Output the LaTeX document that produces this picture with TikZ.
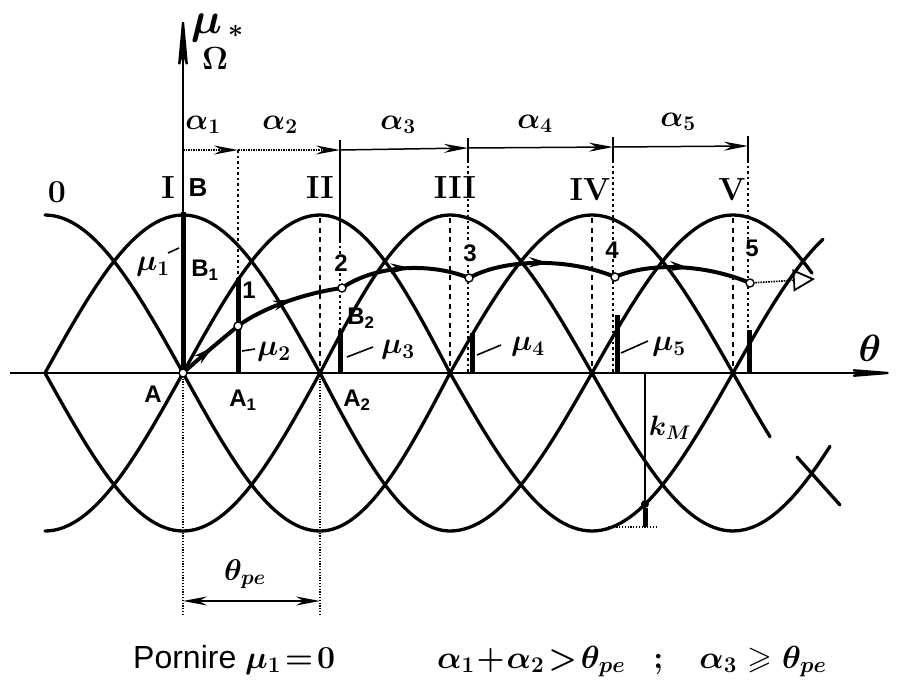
\RequirePackage{fix-cm}
\documentclass[tikz,border=0pt]{standalone}
\usepackage{amssymb}
\usepackage{fontspec}
\setsansfont{Liberation Sans}
\usetikzlibrary{arrows.meta,decorations.markings}
\begin{document}
\begin{tikzpicture}[x=1pt,y=-1pt,
  curve/.style={line width=3.3pt, line cap=round},
  axisl/.style={line width=2.2pt},
  dotv/.style={line width=1.5pt, dash pattern=on 2.5pt off 3pt},
  fined/.style={line width=1.2pt, dash pattern=on 1.2pt off 1.6pt},
  dashv/.style={line width=2pt, dash pattern=on 5pt off 4.5pt},
  tickl/.style={line width=1.5pt},
  bar/.style={line width=5pt},
  lead/.style={line width=1.6pt},
  pt/.style={circle, draw, line width=1.4pt, fill=white, inner sep=0pt, minimum size=8pt},
  traj/.style={line width=4pt, decoration={markings, mark=at position 0.55 with {\arrow{Stealth[length=20pt,width=10pt]}}}, postaction={decorate}},
  dimarr/.style={line width=1.5pt},
  roman/.style={font=\fontsize{32}{34}\selectfont\bfseries, inner sep=0pt},
  num/.style={font=\sffamily\fontsize{24}{26}\selectfont\bfseries, inner sep=1pt, fill=white},
  pl/.style={font=\sffamily\fontsize{24}{26}\selectfont\bfseries, inner sep=0pt},
  ml/.style={font=\fontsize{30}{32}\selectfont\boldmath, inner sep=0pt},
]
\useasboundingbox (0,0) rectangle (902,696);

% ---- torque curves (four phases) ----
\draw[curve] (45,215) cos (183,373) sin (320,531) cos (450,373) sin (592,215) cos (733,373)
  -- plot[domain=733:770,samples=12] (\x,{373+158*sin((\x-733)/140*90)});
\draw[curve] (797,457) -- (840,505);
\draw[curve] (45,373) sin (183,215) cos (320,373) sin (450,531) cos (592,373) sin (733,215)
  -- plot[domain=733:812,samples=16] (\x,{373-158*cos((\x-733)/140*90)});
\draw[curve] (45,531) cos (183,373) sin (320,215) cos (450,373) sin (592,531) cos (733,373)
  -- plot[domain=733:823,samples=16] (\x,{373-158*sin((\x-733)/140*90)});
\draw[curve] (45,373) sin (183,531) cos (320,373) sin (450,215) cos (592,373) sin (733,531)
  -- plot[domain=733:830,samples=16] (\x,{373+158*cos((\x-733)/140*90)});

% ---- axes ----
\draw[axisl, -{Stealth[length=62pt,width=10pt]}] (10,373) -- (902,373);
\draw[axisl, -{Stealth[length=66pt,width=12pt]}] (183,373) -- (183,10);
\draw[bar] (183,373) -- (183,212);
\draw[fined] (183,373) -- (183,614);
\draw[fined] (320,373) -- (320,614);

% ---- theta_pe dimension ----
\draw[dimarr, {Stealth[length=24pt,width=9pt]}-{Stealth[length=24pt,width=9pt]}] (183,601) -- (320,601);

% ---- alpha dimension line ----
\coordinate (a0) at (183,150);
\coordinate (a1) at (238,150);
\coordinate (a2) at (340,150);
\coordinate (a3) at (468,148);
\coordinate (a4) at (613,147);
\coordinate (a5) at (748,146);
\draw[dimarr, densely dotted, -{Stealth[length=24pt,width=9pt]}] (a0) -- (a1);
\draw[dimarr, densely dotted, -{Stealth[length=24pt,width=9pt]}] (a1) -- (a2);
\draw[dimarr, -{Stealth[length=24pt,width=9pt]}] (a2) -- (a3);
\draw[dimarr, -{Stealth[length=24pt,width=9pt]}] (a3) -- (a4);
\draw[dimarr, -{Stealth[length=24pt,width=9pt]}] (a4) -- (a5);

% ---- step boundary verticals ----
\draw[dotv] (238,150) -- (238,373);
\draw[tickl] (340,140) -- (340,240);
\draw[dotv] (340,240) -- (340,373);
\draw[tickl] (468,138) -- (468,160);
\draw[dotv] (468,160) -- (468,373);
\draw[tickl] (613,137) -- (613,160);
\draw[dotv] (613,160) -- (613,373);
\draw[tickl] (748,136) -- (748,160);
\draw[dotv] (748,160) -- (748,373);

% ---- peak verticals ----
\draw[dashv] (320,218) -- (320,373);
\draw[dashv] (450,218) -- (450,373);
\draw[dashv] (592,218) -- (592,373);
\draw[dashv] (733,218) -- (733,373);

% ---- torque bars ----
\draw[bar] (238,373) -- (238,278);
\draw[bar] (340,373) -- (340,330);
\draw[bar] (472,373) -- (472,333);
\draw[bar] (617,373) -- (617,315);
\draw[bar] (749,373) -- (749,330);

% ---- k_M construction ----
\coordinate (kt) at (645,373);
\coordinate (kb) at (645,527);
\node[circle, fill, inner sep=0pt, minimum size=8pt] (kd) at (645,504) {};
\draw[line width=1.8pt] (kt) -- (kd);
\draw[bar] (kd) -- (kb);
\draw[fined] (608,527) -- (656,527);

% ---- trajectory ----
\coordinate (cA) at (183,373);
\coordinate (cP1) at (238,326);
\coordinate (cP2) at (342,288);
\coordinate (cP3) at (469,278);
\coordinate (cP4) at (615,277);
\coordinate (cP5) at (750,283);
\coordinate (ctip) at (815,279);
\draw[traj] (cA) .. controls (203,355) and (221,340) .. (cP1);
\draw[traj] (cP1) .. controls (262,308) and (305,293) .. (cP2);
\draw[traj] (cP2) .. controls (375,265) and (430,262) .. (cP3);
\draw[traj] (cP3) .. controls (505,258) and (570,258) .. (cP4);
\draw[traj] (cP4) .. controls (650,262) and (705,264) .. (cP5);
\draw[line width=1.6pt, densely dotted, -{Triangle[open,length=22pt,width=22pt,line width=1.8pt]}] (cP5) -- (ctip);

\node[pt] (A) at (cA) {};
\node[pt] (P1) at (cP1) {};
\node[pt] (P2) at (cP2) {};
\node[pt] (P3) at (cP3) {};
\node[pt] (P4) at (cP4) {};
\node[pt] (P5) at (cP5) {};

% ---- labels ----
\node[roman] (l0) at (57,192) {0};
\node[roman] (lI) at (168,188) {I};
\node[pl, font=\sffamily\fontsize{26}{28}\selectfont\bfseries] (lB) at (198,188) {B};
\node[roman] (lII) at (320,188) {II};
\node[roman] (lIII) at (455,188) {III};
\node[roman] (lIV) at (590,190) {IV};
\node[roman] (lV) at (732,190) {V};

\node[num, fill=none] (n1) at (249,290) {1};
\node[num] (n2) at (341,263) {2};
\node[num] (n3) at (470,253) {3};
\node[num] (n4) at (612,250) {4};
\node[num] (n5) at (752,248) {5};

\node[pl] (lB1) at (205,270) {B\textsubscript{1}};
\node[pl] (lB2) at (361,318) {B\textsubscript{2}};
\node[pl] (lA) at (153,394) {A};
\node[pl] (lA1) at (243,400) {A\textsubscript{1}};
\node[pl] (lA2) at (357,400) {A\textsubscript{2}};

\node[ml] (al1) at (203,125) {$\alpha_1$};
\node[ml] (al2) at (280,125) {$\alpha_2$};
\node[ml] (al3) at (398,125) {$\alpha_3$};
\node[ml] (al4) at (535,124) {$\alpha_4$};
\node[ml] (al5) at (678,122) {$\alpha_5$};

\node[ml] (mu1) at (153,267) {$\mu_1$};
\draw[lead] (168,253) -- (179,248);
\node[ml] (mu2) at (274,352) {$\mu_2$};
\draw[lead] (242,351) -- (255,349);
\node[ml] (mu3) at (398,350) {$\mu_3$};
\draw[lead] (347,357) -- (373,347);
\node[ml] (mu4) at (528,347) {$\mu_4$};
\draw[lead] (477,355) -- (501,345);
\node[ml] (mu5) at (669,347) {$\mu_5$};
\draw[lead] (621,353) -- (648,341);

\node[ml] (tpe) at (245,574) {$\theta_{pe}$};
\node[ml, font=\fontsize{38}{40}\selectfont\boldmath] (th) at (870,348) {$\theta$};
\node[ml, font=\fontsize{28}{30}\selectfont\boldmath] (kM) at (670,428) {$k_M$};

\node[inner sep=0pt] (ylab) at (217,42) {{\fontsize{44}{46}\selectfont\boldmath$\mu$}\kern-20pt\raisebox{-36pt}{\fontsize{32}{34}\selectfont\boldmath$\Omega$}\raisebox{-4pt}{\fontsize{26}{28}\selectfont\boldmath$*$}};

\node[anchor=base west, inner sep=0pt, font=\sffamily\fontsize{32}{34}\selectfont\boldmath] (bt1) at (133,668) {Pornire $\mu_1\mkern2mu{=}\mkern2mu0$};
\node[anchor=base west, inner sep=0pt, font=\fontsize{32}{34}\selectfont\boldmath] (bt2) at (437,668) {$\alpha_1\mkern1mu{+}\mkern1mu\alpha_2\mkern2mu{>}\mkern2mu\theta_{pe}\kern28pt;\kern30pt\alpha_3\geqslant\theta_{pe}$};
\end{tikzpicture}
\end{document}
